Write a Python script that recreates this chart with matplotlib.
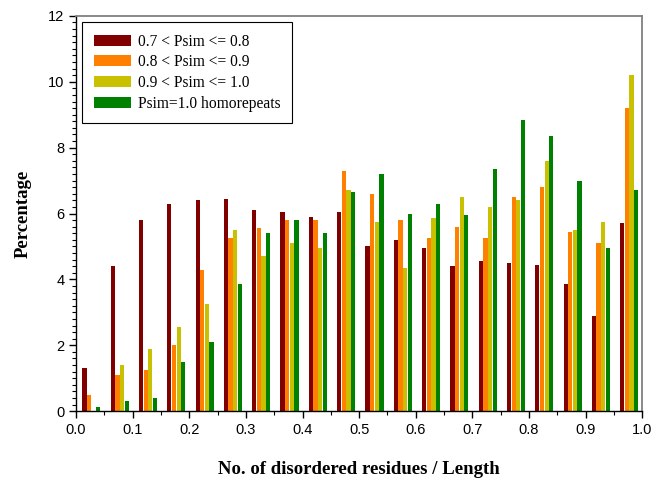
import numpy as np
import matplotlib
matplotlib.use('Agg')
import matplotlib.pyplot as plt
from matplotlib.ticker import MultipleLocator

# Percentage per bin of disordered fraction (bins of 0.05)
bin_starts = np.arange(20) * 0.05
psim_07_08 = [1.3, 4.4, 5.8, 6.3, 6.4, 6.45, 6.1, 6.05, 5.9, 6.05,
              5.0, 5.2, 4.95, 4.4, 4.55, 4.5, 4.45, 3.85, 2.9, 5.7]
psim_08_09 = [0.5, 1.1, 1.25, 2.0, 4.3, 5.25, 5.55, 5.8, 5.8, 7.3,
              6.6, 5.8, 5.25, 5.6, 5.25, 6.5, 6.8, 5.45, 5.1, 9.2]
psim_09_10 = [0.0, 1.4, 1.9, 2.55, 3.25, 5.5, 4.7, 5.1, 4.95, 6.7,
              5.75, 4.35, 5.85, 6.5, 6.2, 6.4, 7.6, 5.5, 5.75, 10.2]
homorepeats = [0.12, 0.3, 0.4, 1.5, 2.1, 3.85, 5.4, 5.8, 5.4, 6.65,
               7.2, 6.0, 6.3, 5.95, 7.35, 8.85, 8.35, 7.0, 4.95, 6.7]

series = [psim_07_08, psim_08_09, psim_09_10, homorepeats]
labels = ['0.7 < Psim <= 0.8', '0.8 < Psim <= 0.9',
          '0.9 < Psim <= 1.0', 'Psim=1.0 homorepeats']
colors = ['#800000', '#ff8000', '#c8c000', '#008000']

fig = plt.figure(figsize=(6.56, 4.82), dpi=100)
ax = fig.add_axes([0.116, 0.147, 0.863, 0.820])

width = 0.0075
step = 0.0082
for k, (vals, lab, col) in enumerate(zip(series, labels, colors)):
    ax.bar(bin_starts + 0.011 + k * step, vals, width=width, align='edge',
           color=col, label=lab, edgecolor='none')

ax.set_xlim(0, 1.0)
ax.set_ylim(0, 12)
ax.xaxis.set_major_locator(MultipleLocator(0.1))
ax.xaxis.set_minor_locator(MultipleLocator(0.05))
ax.yaxis.set_major_locator(MultipleLocator(2))
ax.yaxis.set_minor_locator(MultipleLocator(0.2))
ax.xaxis.set_major_formatter(plt.FuncFormatter(lambda v, p: f'{v:.1f}'))

for lab in ax.get_xticklabels() + ax.get_yticklabels():
    lab.set_family('Liberation Sans')
ax.tick_params(axis='both', which='major', length=5, width=1, labelsize=10.5,
               direction='out', top=False, right=False)
ax.tick_params(axis='both', which='minor', length=3, width=0.8,
               direction='out', top=False, right=False)

for s in ['top', 'right']:
    ax.spines[s].set_color('#808080')
    ax.spines[s].set_linewidth(1.3)
for s in ['left', 'bottom']:
    ax.spines[s].set_linewidth(1.0)

ax.set_xlabel('No. of disordered residues / Length', family='Liberation Serif',
              fontweight='bold', fontsize=13.5, labelpad=17)
ax.set_ylabel('Percentage', family='Liberation Serif', fontweight='bold',
              fontsize=13.5, labelpad=12)

leg = ax.legend(loc='upper left', bbox_to_anchor=(0.0106, 0.985),
                borderaxespad=0,
                prop={'family': 'Liberation Serif', 'size': 11.2},
                handlelength=2.4, handleheight=0.7, handletextpad=0.45,
                labelspacing=0.3, borderpad=0.75, fancybox=False,
                framealpha=1, edgecolor='black')
leg.get_frame().set_linewidth(0.8)

fig.savefig('out.png', dpi=100)
